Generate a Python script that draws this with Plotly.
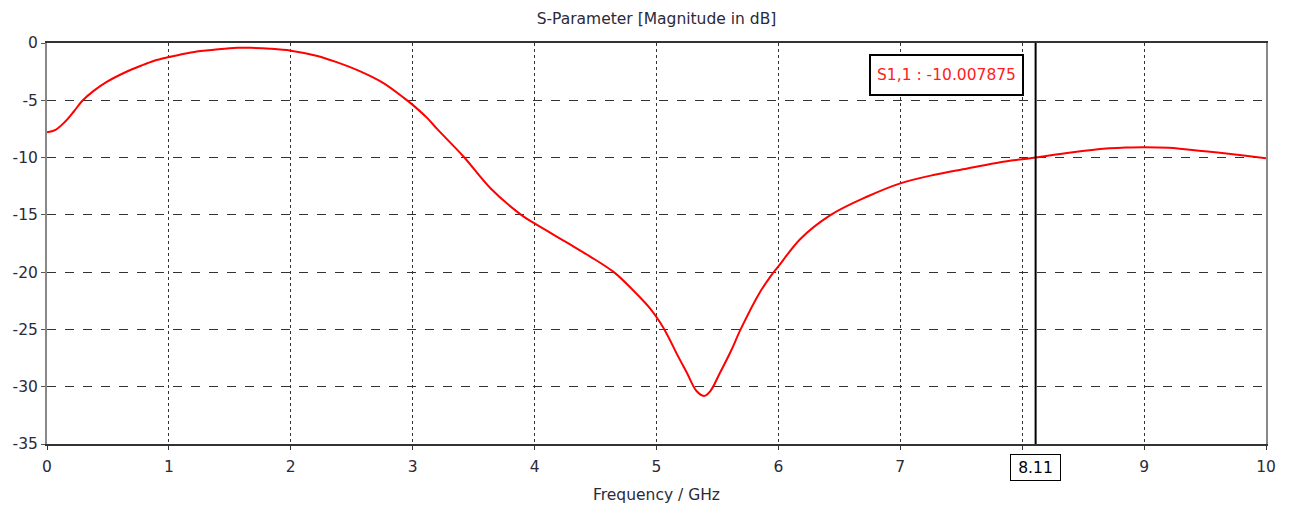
import plotly.graph_objects as go

freq_ghz = [0.0, 0.07, 0.15, 0.22, 0.29, 0.38, 0.49, 0.63, 0.77, 0.88, 1.0, 1.18, 1.37, 1.56,
            1.67, 1.83, 2.0, 2.21, 2.37, 2.57, 2.76, 2.93, 3.0, 3.12, 3.2, 3.42, 3.64, 3.89,
            4.0, 4.27, 4.45, 4.65, 4.81, 4.95, 5.03, 5.09, 5.17, 5.25, 5.33, 5.39, 5.44,
            5.52, 5.61, 5.69, 5.84, 5.94, 6.0, 6.18, 6.43, 6.73, 7.0, 7.28, 7.55, 7.82,
            8.0, 8.11, 8.4, 8.69, 8.85, 9.0, 9.2, 9.5, 9.8, 10.0]
s11_db = [-7.8, -7.58, -6.85, -5.98, -5.04, -4.2, -3.4, -2.62, -1.99, -1.55, -1.23, -0.82, -0.59, -0.41,
          -0.42, -0.5, -0.67, -1.11, -1.65, -2.48, -3.5, -4.81, -5.4, -6.56, -7.5, -9.95, -12.7, -15.0,
          -15.75, -17.45, -18.6, -20.0, -21.6, -23.2, -24.4, -25.5, -27.2, -28.8, -30.4, -30.8, -30.4,
          -28.8, -26.9, -25.0, -21.9, -20.3, -19.5, -17.1, -15.0, -13.4, -12.25, -11.5, -10.95, -10.4,
          -10.15, -10.0, -9.55, -9.2, -9.13, -9.1, -9.15, -9.45, -9.8, -10.06]

x_ticks = [0, 1, 2, 3, 4, 5, 6, 7, 8, 9, 10]
x_tick_labels = ["0", "1", "2", "3", "4", "5", "6", "7", "", "9", "10"]  # "8" is hidden under the marker box
y_ticks = [0, -5, -10, -15, -20, -25, -30, -35]
marker_x = 8.11
marker_label = "8.11"
marker_text = "S1,1 : -10.007875"
title_text = "S-Parameter [Magnitude in dB]"
x_title = "Frequency / GHz"

FONT = "DejaVu Sans"
TXT = "#2a2a3a"
FS = 15.5

fig = go.Figure()
fig.add_trace(go.Scatter(x=freq_ghz, y=s11_db, mode="lines",
                         line=dict(color="#ff0000", width=2, shape="spline", smoothing=1.0),
                         hoverinfo="skip", showlegend=False))

fig.add_shape(type="line", xref="x", yref="paper", x0=marker_x, x1=marker_x, y0=0, y1=1,
              line=dict(color="black", width=2))

fig.add_annotation(x=marker_x, xref="x", y=-2.8, yref="y", text=marker_text, showarrow=False,
                   xanchor="right", yanchor="middle", xshift=-12,
                   font=dict(family=FONT, size=FS, color="#ff2020"),
                   bgcolor="white", bordercolor="black", borderwidth=2, borderpad=1,
                   width=149, height=36)

fig.add_annotation(x=marker_x, xref="x", y=0, yref="paper", yshift=-23, text=marker_label,
                   showarrow=False, xanchor="center", yanchor="middle",
                   font=dict(family=FONT, size=FS, color="black"),
                   bgcolor="white", bordercolor="black", borderwidth=1, borderpad=2,
                   width=45, height=21)

fig.update_layout(
    width=1291, height=507,
    margin=dict(l=47, r=25, t=43, b=63),
    paper_bgcolor="white", plot_bgcolor="white",
    font=dict(family=FONT, size=FS, color=TXT),
    title=dict(text=title_text, x=0.5, xref="paper", xanchor="center",
               y=1 - 19 / 507, yanchor="middle", font=dict(family=FONT, size=FS, color=TXT)),
    xaxis=dict(range=[0, 10], tickvals=x_ticks, ticktext=x_tick_labels,
               showgrid=True, gridcolor="#333333", griddash="dot", gridwidth=1,
               showline=True, linecolor="#333333", linewidth=1.5, mirror=True,
               ticks="outside", ticklen=4, tickcolor="#333333", zeroline=False,
               ticklabelstandoff=4, automargin=False,
               tickfont=dict(family=FONT, size=FS, color=TXT),
               title=dict(text=x_title, standoff=14, font=dict(family=FONT, size=FS, color=TXT))),
    yaxis=dict(range=[-35, 0], tickvals=y_ticks, ticktext=[str(v) for v in y_ticks],
               showgrid=True, gridcolor="#333333", griddash="dash", gridwidth=1,
               showline=True, linecolor="#888888", linewidth=2, mirror=True,
               ticks="outside", ticklen=4, tickcolor="#555555", zeroline=False,
               automargin=False,
               tickfont=dict(family=FONT, size=FS, color=TXT)),
)

fig.write_html("out.html")
